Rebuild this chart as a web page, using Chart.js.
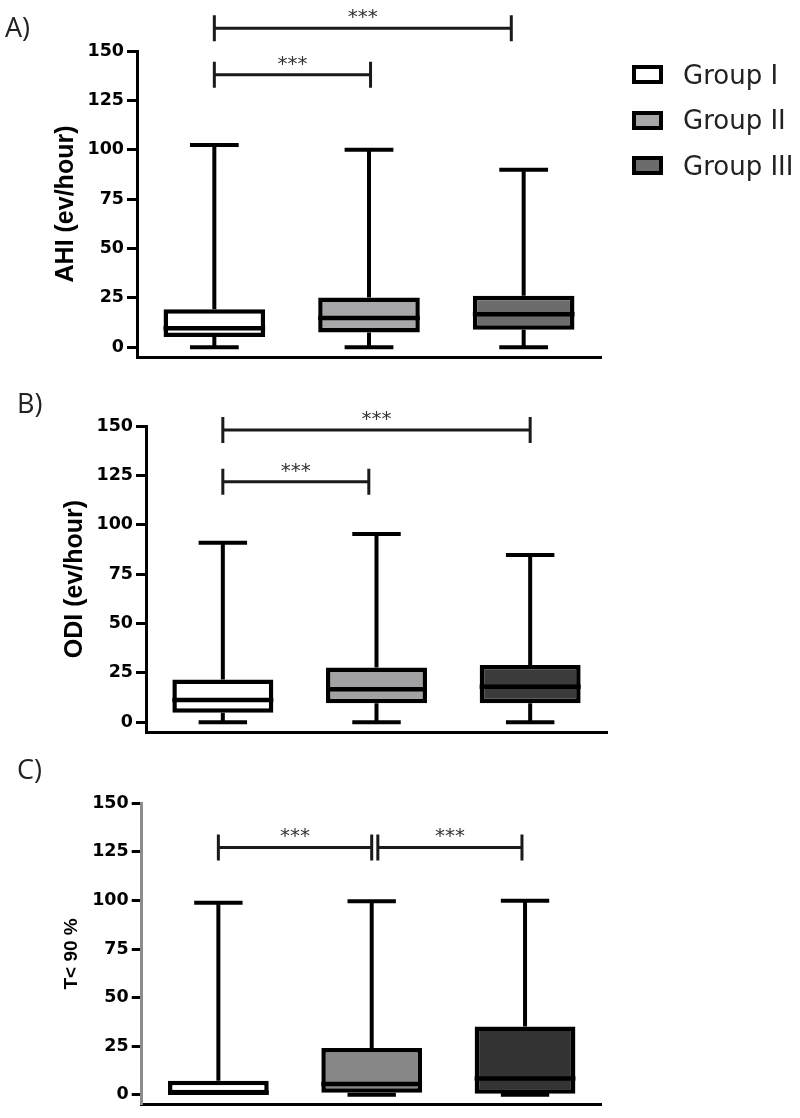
<!DOCTYPE html>
<html>
<head>
<meta charset="utf-8">
<script src="https://cdn.jsdelivr.net/npm/chart.js@4.4.1/dist/chart.umd.min.js"></script>
<style>
body { margin: 0; background: #fff; }
#page { position: relative; width: 800px; height: 1118px; overflow: hidden; }
.panel { position: absolute; left: 0; width: 800px; }
.tag { position: absolute; font-family: 'Open Sans', sans-serif; font-size: 27px; line-height: 27px; color: #222; }
#legend { position: absolute; left: 632px; top: 0; }
.item { position: absolute; left: 0; width: 170px; height: 30px; }
.swatch { position: absolute; left: 0; top: 0; width: 31px; height: 19px; border: 4px solid #000; box-sizing: border-box; }
.item span { position: absolute; left: 51px; top: -3.5px; white-space: nowrap; font-family: 'DejaVu Sans', sans-serif; font-size: 26px; line-height: 26px; color: #222; }
</style>
</head>
<body>
<div id="page">
  <div class="panel" style="top:0;height:375px"><canvas id="chartA"></canvas></div>
  <div class="panel" style="top:375px;height:375px"><canvas id="chartB"></canvas></div>
  <div class="panel" style="top:750px;height:368px"><canvas id="chartC"></canvas></div>
  <div class="tag" style="left:5px;top:13px">A)</div>
  <div class="tag" style="left:17px;top:389px">B)</div>
  <div class="tag" style="left:17px;top:755px">C)</div>
  <div id="legend"></div>
</div>
<script>
const groupLabels = ['Group I', 'Group II', 'Group III'];
const yTicks = [0, 25, 50, 75, 100, 125, 150];

// A) AHI
const ahiMin = [0, 0, 0];
const ahiQ1 = [5.1, 7.4, 8.8];
const ahiMedian = [9.6, 14.7, 16.7];
const ahiQ3 = [19.2, 25.1, 26];
const ahiMax = [102.4, 100, 89.8];
const ahiSig = [
    {from: 0, to: 1.92, at: 161.5, text: '***'},
    {from: 0, to: 1.01, at: 138, text: '***'}
];

// B) ODI
const odiMin = [0, 0, 0];
const odiQ1 = [4.7, 9.5, 9.5];
const odiMedian = [11.2, 16.7, 17.9];
const odiQ3 = [21.6, 27.7, 28.9];
const odiMax = [90.9, 95.3, 84.6];
const odiSig = [
    {from: 0, to: 2, at: 148, text: '***'},
    {from: 0, to: 0.95, at: 121.8, text: '***'}
];

// C) T<90%
const t90Min = [0, 0, 0];
const t90Q1 = [0, 1, 0.5];
const t90Median = [1, 5.5, 8.4];
const t90Q3 = [7.2, 24.1, 35.1];
const t90Max = [98.8, 99.6, 99.8];
const t90Sig = [
    {from: 0, to: 1.0, at: 127.3, text: '***'},
    {from: 1.04, to: 1.98, at: 127.3, text: '***'}
];

const fillsA = ['#ffffff', '#a7a7a9', '#6c6c6c'];
const fillsB = ['#ffffff', '#a2a2a5', '#3b3b3b'];
const fillsC = ['#ffffff', '#878787', '#333333'];

// whiskers under the boxes, medians and significance bars on top
function boxParts(p) {
    return {
        id: 'boxParts',
        beforeDatasetsDraw(chart) {
            const ctx = chart.ctx;
            const y = chart.scales.y;
            const bars = chart.getDatasetMeta(0).data;
            ctx.save();
            ctx.strokeStyle = '#000';
            ctx.lineWidth = 4;
            bars.forEach((bar, i) => {
                const {x, width} = bar.getProps(['x', 'width'], true);
                const capHalf = width * 0.24;
                [[p.q3[i], p.max[i]], [p.q1[i], p.min[i]]].forEach(([from, to]) => {
                    if (from === to) return;
                    const y0 = y.getPixelForValue(from);
                    const y1 = y.getPixelForValue(to);
                    ctx.beginPath();
                    ctx.moveTo(x, y0);
                    ctx.lineTo(x, y1);
                    ctx.moveTo(x - capHalf, y1);
                    ctx.lineTo(x + capHalf, y1);
                    ctx.stroke();
                });
            });
            ctx.restore();
        },
        afterDatasetsDraw(chart) {
            const ctx = chart.ctx;
            const xs = chart.scales.x;
            const y = chart.scales.y;
            const bars = chart.getDatasetMeta(0).data;
            ctx.save();
            ctx.strokeStyle = '#000';
            ctx.lineWidth = 4.5;
            bars.forEach((bar, i) => {
                const {x, width} = bar.getProps(['x', 'width'], true);
                const ym = y.getPixelForValue(p.median[i]);
                ctx.beginPath();
                ctx.moveTo(x - width / 2, ym);
                ctx.lineTo(x + width / 2, ym);
                ctx.stroke();
            });
            ctx.strokeStyle = '#1a1a1a';
            ctx.fillStyle = '#333';
            ctx.lineWidth = 3;
            ctx.font = '20px "DejaVu Sans"';
            ctx.textAlign = 'center';
            ctx.textBaseline = 'alphabetic';
            p.sig.forEach(s => {
                const xa = xs.getPixelForValue(s.from);
                const xb = xs.getPixelForValue(s.to);
                const yy = y.getPixelForValue(s.at);
                ctx.beginPath();
                ctx.moveTo(xa, yy);
                ctx.lineTo(xb, yy);
                ctx.moveTo(xa, yy - 13);
                ctx.lineTo(xa, yy + 13);
                ctx.moveTo(xb, yy - 13);
                ctx.lineTo(xb, yy + 13);
                ctx.stroke();
                ctx.fillText(s.text, (xa + xb) / 2, yy - 5);
            });
            ctx.restore();
        }
    };
}

function makePanel(id, p) {
    const boxes = p.q1.map((v, i) => [v, p.q3[i]]);
    return new Chart(document.getElementById(id), {
        type: 'bar',
        data: {
            labels: groupLabels,
            datasets: [{
                label: p.title,
                data: boxes,
                backgroundColor: p.fills,
                borderColor: '#000',
                borderWidth: 4.5,
                borderSkipped: false,
                barPercentage: 0.657,
                categoryPercentage: 1
            }]
        },
        options: {
            responsive: true,
            maintainAspectRatio: false,
            animation: false,
            layout: {padding: p.pad},
            plugins: {legend: {display: false}, tooltip: {enabled: false}},
            scales: {
                x: {
                    ticks: {display: false},
                    grid: {display: false, drawTicks: false},
                    border: {display: true, color: '#000', width: 3},
                    afterFit: s => { s.height = 0; }
                },
                y: {
                    min: p.yMin,
                    max: 150,
                    afterBuildTicks: a => { a.ticks = yTicks.map(v => ({value: v})); },
                    afterFit: s => { s.width = p.axisLeft; },
                    ticks: {color: '#000', padding: 3, font: {family: 'DejaVu Sans', weight: 'bold', size: 17.5}},
                    grid: {drawOnChartArea: false, drawTicks: true, tickLength: 10, tickWidth: 3, tickColor: '#000'},
                    border: {display: true, color: p.axisColor, width: 3},
                    title: {
                        display: true,
                        text: p.title,
                        color: '#000',
                        font: {family: 'Liberation Sans', weight: 'bold', size: p.titleSize},
                        padding: {top: p.titlePad, bottom: 0}
                    }
                }
            }
        },
        plugins: [boxParts(p)]
    });
}

makePanel('chartA', {
    title: 'AHI (ev/hour)', titleSize: 25, titlePad: 51,
    min: ahiMin, q1: ahiQ1, median: ahiMedian, q3: ahiQ3, max: ahiMax, sig: ahiSig,
    fills: fillsA, yMin: -5, axisLeft: 137, axisColor: '#000',
    pad: {top: 51, right: 199, bottom: 18, left: 0}
});
makePanel('chartB', {
    title: 'ODI (ev/hour)', titleSize: 25, titlePad: 60,
    min: odiMin, q1: odiQ1, median: odiMedian, q3: odiQ3, max: odiMax, sig: odiSig,
    fills: fillsB, yMin: -5, axisLeft: 146, axisColor: '#000',
    pad: {top: 51, right: 193, bottom: 18, left: 0}
});
makePanel('chartC', {
    title: 'T< 90 %', titleSize: 19, titlePad: 60.3,
    min: t90Min, q1: t90Q1, median: t90Median, q3: t90Q3, max: t90Max, sig: t90Sig,
    fills: fillsC, yMin: -5, axisLeft: 141.7, axisColor: '#8c8c8c',
    pad: {top: 53.3, right: 198.3, bottom: 8.7, left: 0}
});

// legend for panel A
const legend = document.getElementById('legend');
groupLabels.forEach((name, i) => {
    const item = document.createElement('div');
    item.className = 'item';
    item.style.top = (65 + i * 45.5) + 'px';
    item.innerHTML = `<div class="swatch" style="background:${fillsA[i]}"></div><span>${name}</span>`;
    legend.appendChild(item);
});
</script>
</body>
</html>
